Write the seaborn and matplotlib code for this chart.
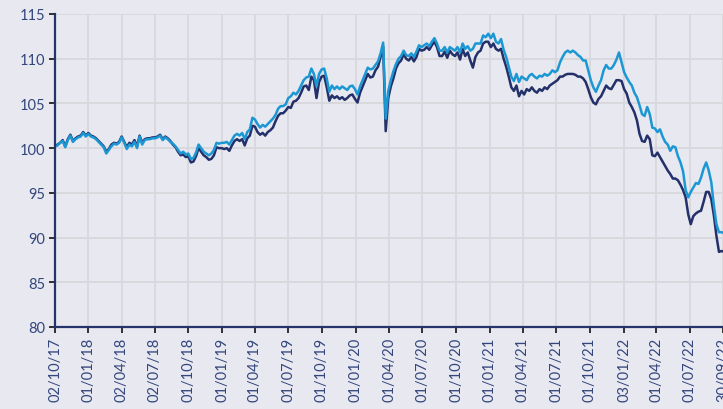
import pandas as pd
import numpy as np
import matplotlib
matplotlib.use("Agg")
import matplotlib.pyplot as plt
import matplotlib.dates as mdates
import seaborn as sns

# ============================================
# Data (weekly readings, one row per quarter)
# ============================================
start_date = "2017-10-02"

light_values = [
    100.2, 100.3, 100.6, 100.8, 100.1, 100.9, 101.4, 100.7, 101.0, 101.2, 101.3, 101.7, 101.3,
    101.6, 101.3, 101.2, 101.0, 100.7, 100.4, 100.1, 99.4, 99.8, 100.2, 100.5, 100.4, 100.6,
    101.2, 100.6, 99.9, 100.4, 100.2, 100.7, 100.0, 101.3, 100.4, 100.9, 101.0, 101.0, 101.1,
    101.1, 101.2, 101.4, 100.9, 101.2, 101.0, 100.7, 100.5, 100.2, 99.8, 99.4, 99.6, 99.3,
    99.4, 98.8, 98.9, 99.5, 100.4, 100.0, 99.6, 99.4, 99.2, 99.4, 99.8, 100.6, 100.5,
    100.6, 100.6, 100.7, 100.4, 100.9, 101.4, 101.6, 101.4, 101.7, 101.0, 101.8, 102.1, 103.4,
    103.2, 102.7, 102.3, 102.6, 102.4, 102.7, 103.0, 103.3, 103.7, 104.4, 104.7, 104.7, 104.9,
    105.6, 105.8, 106.2, 106.0, 106.4, 107.0, 107.6, 107.9, 108.0, 108.9, 108.3, 106.9, 108.3,
    108.8, 108.9, 107.8, 106.3, 107.0, 106.6, 106.9, 106.6, 106.9, 106.7, 106.5, 106.9, 107.0,
    106.6, 106.0, 106.9, 107.6, 108.3, 109.0, 108.8, 108.9, 109.3, 109.7, 110.6, 111.8, 103.3,
    106.4, 107.6, 108.6, 109.4, 110.0, 110.3, 110.9, 110.4, 110.3, 110.6, 110.2, 110.8, 111.5,
    111.3, 111.5, 111.7, 111.4, 111.9, 112.3, 111.7, 110.9, 110.9, 111.3, 110.7, 111.3, 111.1,
    110.9, 111.3, 110.7, 111.7, 111.1, 111.4, 110.9, 111.1, 111.7, 111.7, 111.7, 112.6, 112.4,
    112.8, 112.3, 112.8, 111.9, 111.7, 112.2, 111.0, 110.2, 109.1, 108.0, 107.5, 108.3, 107.4,
    108.0, 107.8, 107.6, 108.1, 108.3, 108.0, 107.8, 108.1, 108.0, 108.3, 108.1, 108.3, 108.7,
    108.5, 108.7, 109.6, 110.2, 110.7, 110.9, 110.7, 110.9, 110.7, 110.4, 110.2, 109.8, 109.8,
    108.7, 107.6, 106.8, 106.3, 107.0, 107.6, 108.7, 109.3, 108.9, 108.9, 109.3, 109.9, 110.7,
    109.6, 108.5, 107.9, 107.4, 107.0, 106.2, 105.7, 104.8, 103.8, 103.6, 104.6, 103.8, 102.3,
    102.2, 101.8, 102.1, 101.3, 100.7, 100.4, 99.7, 100.2, 100.1, 99.1, 98.4, 97.4, 95.3,
    94.5, 95.1, 95.6, 96.1, 96.0, 96.7, 97.7, 98.4, 97.5, 96.2, 93.6, 91.5, 90.6, 90.6, 90.5,
]

dark_values = [
    100.2, 100.4, 100.6, 100.9, 100.2, 101.0, 101.5, 100.8, 101.1, 101.3, 101.4, 101.8, 101.4,
    101.7, 101.4, 101.3, 101.1, 100.8, 100.5, 100.2, 99.6, 99.9, 100.4, 100.6, 100.5, 100.7,
    101.3, 100.7, 100.1, 100.6, 100.4, 100.9, 100.2, 101.4, 100.6, 101.0, 101.1, 101.1, 101.2,
    101.2, 101.3, 101.5, 101.0, 101.3, 101.1, 100.8, 100.4, 100.1, 99.6, 99.2, 99.3, 99.0,
    99.1, 98.4, 98.5, 99.1, 100.0, 99.6, 99.2, 99.0, 98.7, 98.8, 99.2, 100.1, 100.0,
    100.0, 99.9, 100.0, 99.7, 100.3, 100.8, 101.0, 100.8, 101.0, 100.3, 101.1, 101.4, 102.5,
    102.4, 101.8, 101.5, 101.7, 101.4, 101.8, 102.0, 102.3, 103.0, 103.6, 103.9, 103.9, 104.2,
    104.6, 104.5, 105.2, 105.3, 105.6, 106.2, 106.9, 107.0, 106.5, 108.0, 107.6, 105.6, 107.4,
    108.0, 108.1, 106.8, 105.3, 105.9, 105.6, 105.8, 105.5, 105.7, 105.4, 105.6, 105.9, 106.0,
    105.5, 105.1, 106.2, 106.9, 107.6, 108.3, 107.9, 108.0, 108.7, 109.1, 110.2, 111.4, 101.9,
    105.6, 106.9, 107.8, 108.9, 109.5, 109.8, 110.5, 110.0, 109.8, 110.2, 109.7, 110.2, 111.1,
    110.9, 111.0, 111.3, 111.0, 111.5, 111.9, 111.3, 110.3, 110.3, 110.8, 110.1, 110.9, 110.5,
    110.3, 110.7, 109.9, 111.1, 110.3, 110.7, 109.8, 109.0, 110.2, 110.7, 110.9, 111.7, 111.9,
    111.9, 111.3, 111.7, 111.1, 110.9, 111.1, 110.0, 109.1, 108.0, 106.8, 106.4, 107.0, 105.8,
    106.4, 106.0, 106.6, 106.4, 106.8, 106.4, 106.2, 106.6, 106.4, 106.8, 106.6, 107.0, 107.2,
    107.4, 107.6, 108.0, 108.0, 108.2, 108.3, 108.3, 108.3, 108.2, 108.0, 108.0, 107.8, 107.4,
    106.6, 105.7, 105.1, 104.9, 105.5, 105.8, 106.4, 107.0, 106.7, 106.6, 107.1, 107.6, 107.6,
    107.5, 106.6, 106.1, 105.1, 104.6, 104.0, 103.1, 101.6, 100.8, 100.7, 101.4, 101.0, 99.2,
    99.1, 99.5, 99.0, 98.5, 98.0, 97.5, 97.1, 96.6, 96.6, 96.4, 95.9, 95.3, 94.5,
    92.6, 91.5, 92.4, 92.7, 92.9, 93.0, 94.0, 95.1, 95.1, 94.3, 92.5, 90.2, 88.4, 88.5, 88.4,
]

tick_labels = [
    "02/10/17", "01/01/18", "02/04/18", "02/07/18", "01/10/18", "01/01/19", "01/04/19",
    "01/07/19", "01/10/19", "01/01/20", "01/04/20", "01/07/20", "01/10/20", "01/01/21",
    "01/04/21", "01/07/21", "01/10/21", "03/01/22", "01/04/22", "01/07/22", "30/09/22",
]
y_ticks = [80, 85, 90, 95, 100, 105, 110, 115]

dates = pd.date_range(start_date, periods=len(light_values), freq="7D")
df = pd.DataFrame({"Date": dates, "light": light_values, "dark": dark_values})
tick_dates = pd.to_datetime(tick_labels, format="%d/%m/%y")

# ============================================
# Style
# ============================================
bg = "#e8e8f0"
navy = "#25336b"
text_col = "#33467c"
sns.set_theme(style="darkgrid", rc={
    "axes.facecolor": bg,
    "figure.facecolor": bg,
    "grid.color": "#d8d8dc",
    "grid.linewidth": 1.3,
})
plt.rcParams["font.family"] = ["Lato", "DejaVu Sans"]

fig = plt.figure(figsize=(7.23, 4.10), dpi=100)
ax = fig.add_axes([55 / 723, 82 / 410, 668 / 723, 313 / 410])

sns.lineplot(data=df, x="Date", y="dark", ax=ax, color="#23306a", linewidth=1.8)
sns.lineplot(data=df, x="Date", y="light", ax=ax, color="#1b98d3", linewidth=1.8)

ax.set_xlim(tick_dates[0], tick_dates[-1])
ax.set_ylim(80, 115)
ax.set_xticks(tick_dates)
ax.set_xticklabels(tick_labels, rotation=90, color=text_col, fontsize=10.5)
ax.set_yticks(y_ticks)
ax.set_yticklabels([str(v) for v in y_ticks], color=text_col, fontsize=10.5)
ax.set_xlabel("")
ax.set_ylabel("")

for side in ["top", "right"]:
    ax.spines[side].set_visible(False)
for side in ["left", "bottom"]:
    ax.spines[side].set_visible(True)
    ax.spines[side].set_color(navy)
    ax.spines[side].set_linewidth(1.6)

ax.tick_params(axis="both", which="major", length=4, width=1.2, color="#111111",
               bottom=True, left=True, pad=3)

plt.savefig("out.png", dpi=100, facecolor=bg)
